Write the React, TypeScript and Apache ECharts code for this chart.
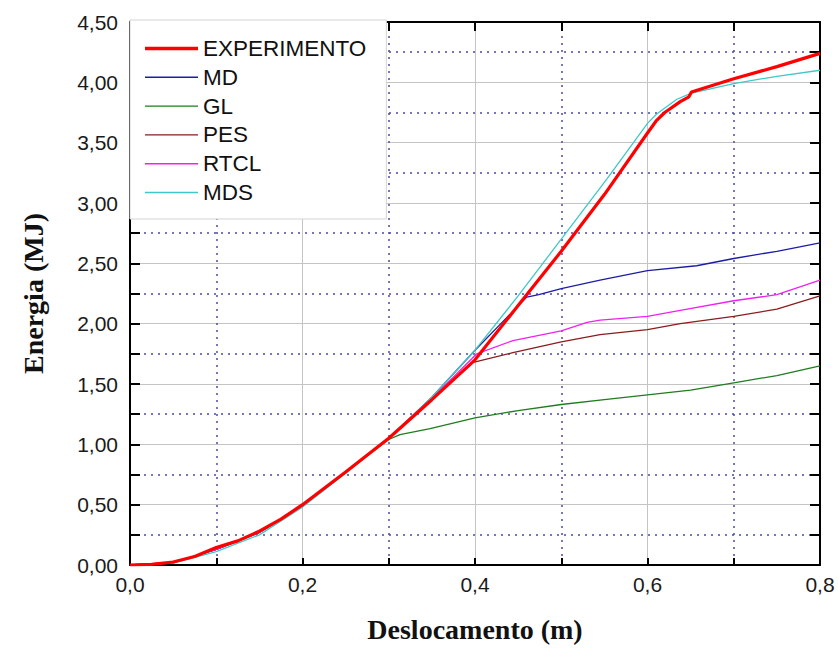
import React, { useEffect, useRef } from "react";
import * as echarts from "echarts";

const seriesNames = ["EXPERIMENTO", "MD", "GL", "PES", "RTCL", "MDS"];

const expX = [0, 0.025, 0.05, 0.075, 0.1, 0.125, 0.15, 0.175, 0.2, 0.25, 0.3, 0.35, 0.4, 0.45, 0.5, 0.55, 0.6, 0.61, 0.62, 0.638, 0.648, 0.651, 0.7, 0.75, 0.8];
const expY = [0, 0.005, 0.025, 0.07, 0.145, 0.2, 0.28, 0.38, 0.5, 0.77, 1.05, 1.37, 1.7, 2.15, 2.6, 3.07, 3.58, 3.68, 3.75, 3.84, 3.88, 3.92, 4.03, 4.13, 4.24];

const mdX = [0, 0.05, 0.1, 0.15, 0.2, 0.25, 0.3, 0.35, 0.4, 0.43, 0.46, 0.474, 0.5, 0.545, 0.6, 0.657, 0.7, 0.75, 0.8];
const mdY = [0, 0.02, 0.13, 0.27, 0.49, 0.77, 1.05, 1.39, 1.78, 2.0, 2.22, 2.24, 2.29, 2.36, 2.44, 2.48, 2.54, 2.6, 2.67];

const glX = [0, 0.05, 0.1, 0.15, 0.2, 0.25, 0.3, 0.313, 0.348, 0.4, 0.45, 0.5, 0.55, 0.6, 0.65, 0.7, 0.75, 0.8];
const glY = [0, 0.02, 0.13, 0.27, 0.49, 0.77, 1.04, 1.08, 1.13, 1.22, 1.28, 1.33, 1.37, 1.41, 1.45, 1.51, 1.57, 1.65];

const pesX = [0, 0.05, 0.1, 0.15, 0.2, 0.25, 0.3, 0.35, 0.398, 0.444, 0.5, 0.545, 0.6, 0.638, 0.7, 0.75, 0.8];
const pesY = [0, 0.02, 0.13, 0.27, 0.49, 0.77, 1.05, 1.37, 1.68, 1.76, 1.85, 1.91, 1.95, 2.0, 2.06, 2.12, 2.23];

const rtclX = [0, 0.05, 0.1, 0.15, 0.2, 0.25, 0.3, 0.35, 0.402, 0.444, 0.5, 0.53, 0.545, 0.6, 0.638, 0.7, 0.75, 0.8];
const rtclY = [0, 0.02, 0.13, 0.27, 0.49, 0.77, 1.05, 1.38, 1.75, 1.86, 1.94, 2.01, 2.03, 2.06, 2.11, 2.19, 2.24, 2.36];

const mdsX = [0, 0.05, 0.1, 0.15, 0.2, 0.25, 0.3, 0.35, 0.4, 0.45, 0.5, 0.553, 0.6, 0.611, 0.634, 0.651, 0.7, 0.75, 0.8];
const mdsY = [0, 0.015, 0.11, 0.25, 0.48, 0.76, 1.05, 1.39, 1.78, 2.23, 2.7, 3.2, 3.66, 3.74, 3.86, 3.91, 3.99, 4.05, 4.1];

const colors = ["#ff0000", "#1c1ca8", "#1e7d1e", "#8b1c1c", "#f020f0", "#40c8c8"];
const widths = [3.2, 1.3, 1.3, 1.3, 1.3, 1.3];

const thickIcon = "path://M0,0h0.01v0.01h-0.01zM0,5.3h53v3.4h-53zM0,14h0.01v-0.01h-0.01z";
const thinIcon = "path://M0,0h0.01v0.01h-0.01zM0,6.3h53v1.4h-53zM0,14h0.01v-0.01h-0.01z";

const pair = (xs: number[], ys: number[]) => xs.map((x, i) => [x, ys[i]]);

export default function App() {
  const ref = useRef<HTMLDivElement>(null);
  useEffect(() => {
    if (!ref.current) return;
    const chart = echarts.init(ref.current, null, { renderer: "svg" });
    const datasets = [
      pair(expX, expY),
      pair(mdX, mdY),
      pair(glX, glY),
      pair(pesX, pesY),
      pair(rtclX, rtclY),
      pair(mdsX, mdsY),
    ];
    const tickStyle = { color: "#000", width: 2 };
    const axisLineStyle = { color: "#000", width: 2 };
    const minorGrid = { color: "#4a4aa8", width: 1.5, type: [2, 5] as any };
    const majorGrid = { color: "#c4c4c4", width: 1, type: "solid" as const };
    const labelFont = { fontFamily: "'Liberation Sans', Arial, sans-serif", fontSize: 21, color: "#1a1a1a" };
    const nameFont = { fontFamily: "'Liberation Serif', 'Times New Roman', serif", fontSize: 28, fontWeight: "bold" as const, color: "#111" };

    const order = [1, 2, 3, 4, 5, 0];
    const series = order.map((i) => ({
      name: seriesNames[i],
      type: "line" as const,
      data: datasets[i],
      showSymbol: false,
      symbol: "none",
      smooth: false,
      xAxisIndex: 0,
      yAxisIndex: 0,
      lineStyle: { color: colors[i], width: widths[i] },
      itemStyle: { color: colors[i] },
      z: i === 0 ? 3 : 2,
    }));

    chart.setOption({
      animation: false,
      backgroundColor: "#fff",
      grid: { left: 130, right: 18, top: 22, bottom: 81, containLabel: false },
      legend: {
        data: seriesNames.map((n, i) => ({ name: n, icon: i === 0 ? thickIcon : thinIcon })),
        orient: "vertical",
        left: 130,
        top: 20,
        padding: [17, 20, 15, 15],
        itemWidth: 53,
        itemHeight: 14,
        itemGap: 5.8,
        backgroundColor: "#fff",
        borderColor: "#d4d4d4",
        borderWidth: 1,
        itemStyle: { borderWidth: 0 },
        textStyle: { fontFamily: "'Liberation Sans', Arial, sans-serif", fontSize: 22.5, lineHeight: 22, color: "#111" },
        selectedMode: false,
        z: 10,
      },
      xAxis: [
        {
          type: "value",
          min: 0,
          max: 0.8,
          interval: 0.2,
          position: "bottom",
          name: "Deslocamento (m)",
          nameLocation: "middle",
          nameGap: 50,
          nameTextStyle: nameFont,
          axisLine: { show: true, onZero: false, lineStyle: axisLineStyle },
          axisTick: { show: true, inside: true, length: 7, lineStyle: tickStyle },
          minorTick: { show: true, splitNumber: 2, length: 7, lineStyle: tickStyle },
          axisLabel: { ...labelFont, margin: 9, formatter: (v: number) => v.toFixed(1).replace(".", ",") },
          splitLine: { show: true, lineStyle: majorGrid },
          minorSplitLine: { show: true, lineStyle: minorGrid },
        },
        {
          type: "value",
          min: 0,
          max: 0.8,
          interval: 0.2,
          position: "top",
          axisLine: { show: true, onZero: false, lineStyle: axisLineStyle },
          axisTick: { show: true, inside: true, length: 9, lineStyle: tickStyle },
          minorTick: { show: true, splitNumber: 2, length: 9, lineStyle: tickStyle },
          axisLabel: { show: false },
          splitLine: { show: false },
        },
      ],
      yAxis: [
        {
          type: "value",
          min: 0,
          max: 4.5,
          interval: 0.5,
          position: "left",
          name: "Energia (MJ)",
          nameLocation: "middle",
          nameGap: 83,
          nameRotate: 90,
          nameTextStyle: nameFont,
          axisLine: { show: true, onZero: false, lineStyle: axisLineStyle },
          axisTick: { show: true, inside: true, length: 10, lineStyle: tickStyle },
          minorTick: { show: true, splitNumber: 2, length: 10, lineStyle: tickStyle },
          axisLabel: { ...labelFont, margin: 12, formatter: (v: number) => v.toFixed(2).replace(".", ",") },
          splitLine: { show: true, lineStyle: majorGrid },
          minorSplitLine: { show: true, lineStyle: minorGrid },
        },
        {
          type: "value",
          min: 0,
          max: 4.5,
          interval: 0.5,
          position: "right",
          axisLine: { show: true, onZero: false, lineStyle: axisLineStyle },
          axisTick: { show: true, inside: true, length: 10, lineStyle: tickStyle },
          minorTick: { show: true, splitNumber: 2, length: 10, lineStyle: tickStyle },
          axisLabel: { show: false },
          splitLine: { show: false },
        },
      ],
      series,
    });
    return () => chart.dispose();
  }, []);
  return <div ref={ref} style={{ position: "fixed", left: 0, top: 0, width: 838, height: 648 }} />;
}
